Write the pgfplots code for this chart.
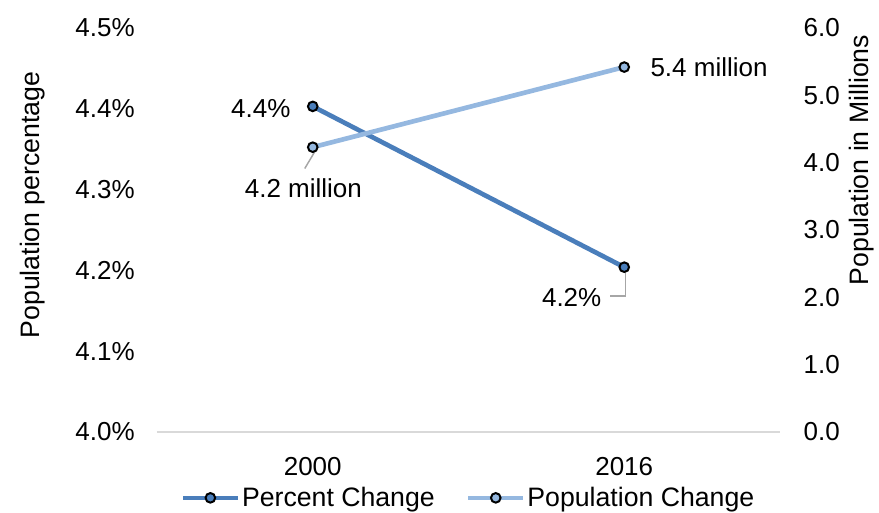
\documentclass[border=0pt]{standalone}
\usepackage{fontspec}
\setmainfont{Liberation Sans}
\usepackage{pgfplots}
\pgfplotsset{compat=1.18}
\definecolor{darkb}{HTML}{4A7EBB}
\definecolor{lightb}{HTML}{95B8E0}
\definecolor{axisgray}{HTML}{D9D9D9}
\definecolor{leadgray}{HTML}{A6A6A6}
\newcommand{\tfont}{\fontsize{19.5}{23}\selectfont}
\newcommand{\lfont}{\fontsize{20}{24}\selectfont}
\begin{document}
\begin{tikzpicture}
\useasboundingbox (-117.75pt,-60pt) rectangle (541.5pt,324pt);
\clip (-117.75pt,-60pt) rectangle (541.5pt,324pt);
\begin{axis}[
  at={(0,0)}, anchor=south west,
  scale only axis, width=467.25pt, height=303pt,
  xmin=-0.5, xmax=1.5, ymin=4.0, ymax=4.5,
  clip=false,
  /pgf/number format/assume math mode=true,
  axis x line*=bottom, axis y line*=left,
  x axis line style={draw=axisgray, line width=1.5pt},
  y axis line style={draw=none},
  major tick length=0pt,
  xtick={0,1}, xticklabels={2000,2016},
  ytick={4.0,4.1,4.2,4.3,4.4,4.5},
  yticklabels={4.0\%,4.1\%,4.2\%,4.3\%,4.4\%,4.5\%},
  ticklabel style={font=\tfont},
  yticklabel style={anchor=east, inner sep=0pt, xshift=-16.5pt},
  xticklabel style={anchor=north, inner sep=0pt, yshift=-18.5pt},
  ylabel={Population percentage},
  ylabel style={at={(axis description cs:-0.199,0.562)}, anchor=center, font=\lfont},
]
\addplot[darkb, line width=3.5pt, mark=*, mark size=3.6pt,
  mark options={fill=darkb, draw=black, line width=1.5pt}]
  coordinates {(0,4.403) (1,4.204)};
\node[anchor=east, inner sep=0pt, font=\tfont, xshift=-16.5pt, yshift=-2pt] at (axis cs:0,4.403) {4.4\%};
\draw[leadgray, line width=1.1pt] ([xshift=0.75pt,yshift=-3.75pt]axis cs:1,4.204) -- ([xshift=0.75pt,yshift=-21.75pt]axis cs:1,4.204) -- ([xshift=-10.5pt,yshift=-21.75pt]axis cs:1,4.204);
\node[anchor=east, inner sep=0pt, font=\tfont, xshift=-17pt, yshift=-22.5pt] at (axis cs:1,4.204) {4.2\%};
\end{axis}
\begin{axis}[
  at={(0,0)}, anchor=south west,
  scale only axis, width=467.25pt, height=303pt,
  xmin=-0.5, xmax=1.5, ymin=0, ymax=6,
  clip=false,
  /pgf/number format/assume math mode=true,
  axis x line=none, axis y line*=right,
  y axis line style={draw=none},
  major tick length=0pt,
  ytick={0,1,2,3,4,5,6},
  yticklabels={0.0,1.0,2.0,3.0,4.0,5.0,6.0},
  ticklabel style={font=\tfont},
  yticklabel style={anchor=west, inner sep=0pt, xshift=17.5pt},
  ylabel={Population in Millions},
  ylabel style={at={(axis description cs:1.1316,0.673)}, anchor=center, font=\lfont},
  legend columns=-1,
  legend style={at={(axis description cs:0.5,-0.163)}, anchor=center, draw=none, fill=none,
    font=\lfont, inner sep=0pt,
    nodes={inner sep=1.5pt},
    /tikz/every even column/.append style={column sep=22pt}},
  legend image code/.code={\draw[mark repeat=2, mark phase=2, #1] plot coordinates {(0pt,0pt) (20.5pt,0pt) (41pt,0pt)};},
]
\addlegendimage{darkb, line width=3.5pt, mark=*, mark size=3.6pt, mark options={fill=darkb, draw=black, line width=1.5pt}}
\addlegendentry{Percent Change}
\addplot[lightb, line width=3.5pt, mark=*, mark size=3.6pt,
  mark options={fill=lightb, draw=black, line width=1.5pt}]
  coordinates {(0,4.23) (1,5.42)};
\addlegendentry{Population Change}
\draw[leadgray, line width=1.1pt] ([xshift=1.5pt,yshift=-3.4pt]axis cs:0,4.23) -- ([xshift=-6pt,yshift=-16pt]axis cs:0,4.23);
\node[anchor=center, inner sep=0pt, font=\tfont, xshift=-7pt, yshift=-30.5pt] at (axis cs:0,4.23) {4.2 million};
\node[anchor=west, inner sep=0pt, font=\tfont, xshift=19.5pt] at (axis cs:1,5.42) {5.4 million};
\end{axis}
\end{tikzpicture}
\end{document}
